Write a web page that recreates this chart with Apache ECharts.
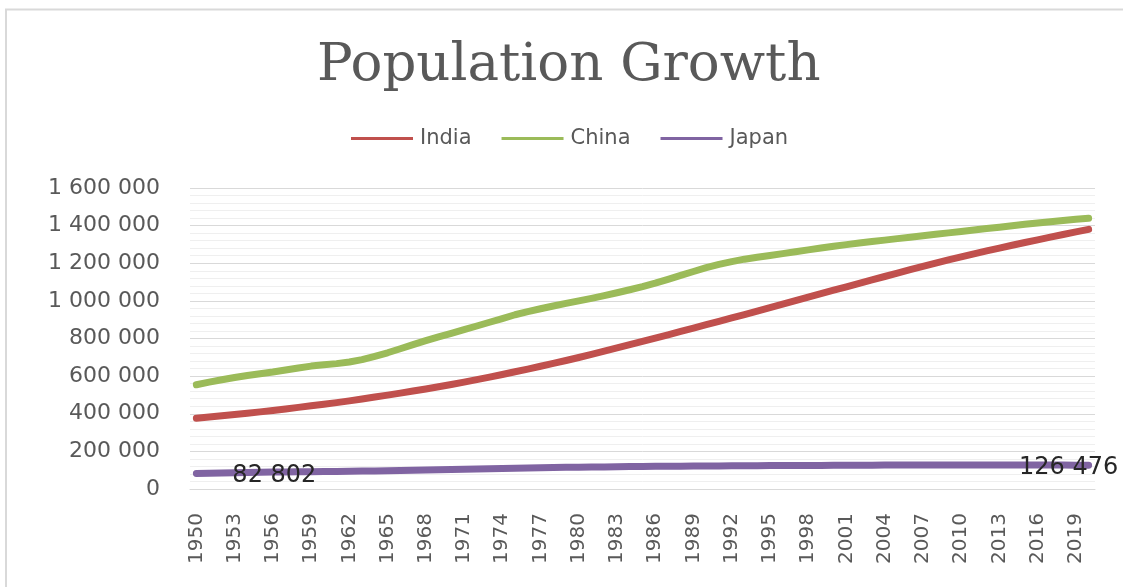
<!DOCTYPE html>
<html>
<head>
<meta charset="utf-8">
<script src="https://cdn.jsdelivr.net/npm/echarts@6/dist/echarts.min.js"></script>
<style>
  html, body { margin: 0; padding: 0; background: #ffffff; overflow: hidden; }
  #chart { width: 1123px; height: 587px; }
</style>
</head>
<body>
<div id="chart"></div>
<script>
// Population in thousands, 1950-2020
const years = [];
for (let y = 1950; y <= 2020; y++) years.push(String(y));

const india = [
  376325, 382400, 388800, 395500, 402500, 409880, 417600, 425600, 433900, 442200,
  450548, 459100, 468500, 478600, 488900, 499123, 509600, 520600, 531900, 543400,
  555190, 567900, 581100, 594800, 608800, 623103, 637600, 652300, 667500, 683000,
  698953, 715400, 732400, 749600, 766900, 784360, 801900, 819600, 837500, 855400,
  873278, 891300, 909300, 927400, 945600, 963923, 982400, 1000900, 1019500, 1038100,
  1056576, 1074900, 1093300, 1111500, 1129600, 1147610, 1165500, 1183200, 1200700, 1217700,
  1234281, 1250300, 1265800, 1280800, 1295600, 1310152, 1324500, 1338700, 1352600, 1366418,
  1380004
];

const china = [
  554419, 567800, 580700, 592600, 603200, 612242, 621500, 632300, 643600, 653300,
  660408, 666500, 675000, 687600, 705200, 724219, 745700, 767200, 788400, 808600,
  827601, 846900, 866400, 886300, 906200, 926241, 942900, 958000, 972600, 986600,
  1000089, 1013600, 1028300, 1043400, 1059000, 1075589, 1094000, 1114200, 1135100, 1156300,
  1176884, 1193900, 1208700, 1221700, 1232000, 1240921, 1251300, 1261300, 1271000, 1280700,
  1290551, 1299100, 1307300, 1315200, 1322900, 1330776, 1338700, 1346500, 1354200, 1361500,
  1368811, 1376500, 1384200, 1391900, 1399500, 1406848, 1414000, 1421000, 1427600, 1433784,
  1439324
];

const japan = [
  82802, 84200, 85600, 86800, 87900, 89016, 89800, 90600, 91300, 91900,
  92501, 93300, 94200, 95200, 96200, 97342, 98600, 99900, 101100, 102400,
  103708, 105100, 106600, 108000, 109400, 110805, 111900, 113000, 114000, 115000,
  115912, 116800, 117600, 118400, 119200, 119989, 120500, 121000, 121400, 121800,
  122249, 122700, 123200, 123600, 124100, 124483, 124800, 125100, 125300, 125500,
  125715, 126000, 126300, 126700, 127100, 127417, 127600, 127800, 127900, 128000,
  128070, 128100, 128100, 128000, 128000, 127985, 127800, 127500, 127200, 126860,
  126476
];

const seriesNames = ['India', 'China', 'Japan'];
const seriesColors = ['#C0504D', '#9BBB59', '#8064A2'];

// Space-separated thousands, e.g. 1 600 000
function fmt(v) {
  return String(Math.round(v)).replace(/\B(?=(\d{3})+(?!\d))/g, ' ');
}

const labelFont = 'DejaVu Sans';
const textGray = '#595959';

// Japan: label the first and last values only
const japanData = japan.map(function (v, i) {
  if (i === 0) {
    return { value: v, label: { show: true, position: 'right', distance: 36, offset: [0, 2] } };
  }
  if (i === japan.length - 1) {
    return { value: v, label: { show: true, position: 'inside', offset: [-20, 3] } };
  }
  return v;
});

function lineSeries(name, data, color) {
  return {
    name: name,
    type: 'line',
    data: data,
    symbol: 'circle',
    symbolSize: 0,
    showSymbol: true,
    itemStyle: { color: color },
    lineStyle: { color: color, width: 7, cap: 'round', join: 'round' },
    label: {
      show: false,
      formatter: function (p) { return fmt(p.value); },
      fontFamily: labelFont,
      fontSize: 24,
      color: '#262626'
    },
    emphasis: { disabled: true },
    animation: false,
    z: 3
  };
}

const chart = echarts.init(document.getElementById('chart'), null, { renderer: 'canvas' });

chart.setOption({
  backgroundColor: '#ffffff',
  animation: false,
  graphic: [{
    // chart frame: left and top edges
    type: 'polyline',
    shape: { points: [[6, 600], [6, 9.5], [1130, 9.5]] },
    style: { fill: 'none', stroke: '#d9d9d9', lineWidth: 2 },
    silent: true,
    z: -1
  }],
  title: {
    text: 'Population Growth',
    left: 312,
    top: 35,
    textStyle: {
      fontFamily: 'DejaVu Serif',
      fontWeight: 'normal',
      fontSize: 53,
      color: textGray
    }
  },
  legend: {
    top: 123,
    left: 346,
    data: seriesNames,
    icon: 'rect',
    itemWidth: 62,
    itemHeight: 3,
    itemGap: 30,
    itemStyle: { opacity: 1 },
    textStyle: { fontFamily: labelFont, fontSize: 21, color: textGray, padding: [0, 0, 0, 2] }
  },
  grid: { left: 190, right: 28, top: 188, bottom: 98, containLabel: false },
  xAxis: {
    type: 'category',
    data: years,
    boundaryGap: true,
    axisLine: { show: true, lineStyle: { color: '#d9d9d9', width: 1 } },
    axisTick: { show: false },
    axisLabel: {
      interval: 2,
      rotate: 90,
      margin: 24,
      fontFamily: labelFont,
      fontSize: 20,
      color: textGray
    },
    splitLine: { show: false }
  },
  yAxis: {
    type: 'value',
    min: 0,
    max: 1600000,
    interval: 200000,
    axisLine: { show: false },
    axisTick: { show: false },
    axisLabel: {
      margin: 30,
      fontFamily: labelFont,
      fontSize: 22,
      color: textGray,
      formatter: fmt
    },
    splitLine: { show: true, lineStyle: { color: '#d9d9d9', width: 1 } },
    minorTick: { show: false, splitNumber: 5 },
    minorSplitLine: { show: true, lineStyle: { color: '#efefef', width: 1 } }
  },
  series: [
    lineSeries('India', india, seriesColors[0]),
    lineSeries('China', china, seriesColors[1]),
    lineSeries('Japan', japanData, seriesColors[2])
  ]
});
</script>
</body>
</html>
